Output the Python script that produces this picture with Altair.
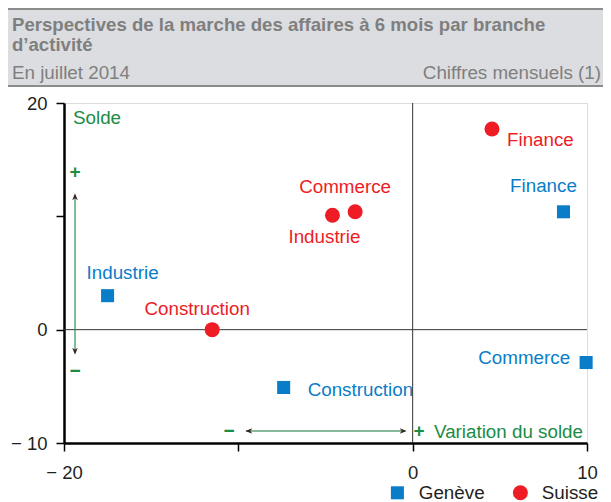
import altair as alt
import pandas as pd

# ---- data ----
branches = ["Industrie", "Construction", "Finance", "Commerce"]
geneve_x = [-17.5, -7.4, 8.65, 9.95]
geneve_y = [3.0, -5.1, 10.4, -2.9]
suisse_x = [-4.6, -11.5, 4.55, -3.3]
suisse_y = [10.1, 0.0, 17.7, 10.4]
series = ["Genève", "Suisse"]
x_ticks = [-20, -10, 0, 10]
y_ticks = [-10, 0, 10, 20]

title_line1 = "Perspectives de la marche des affaires à 6 mois par branche"
title_line2 = "d’activité"
subtitle_left = "En juillet 2014"
subtitle_right = "Chiffres mensuels (1)"

rows = []
for b, x, y in zip(branches, geneve_x, geneve_y):
    rows.append({"serie": "Genève", "branche": b, "x": x, "y": y})
for b, x, y in zip(branches, suisse_x, suisse_y):
    rows.append({"serie": "Suisse", "branche": b, "x": x, "y": y})
df = pd.DataFrame(rows)
one = pd.DataFrame({"a": [0]})

BLUE = "#0a7dc8"
RED = "#ee1c25"
GREEN = "#1a8c46"
BG = "#dcdde0"
HEAD = "#7f7f7f"
INK = "#231f20"
FONT = "Liberation Sans"
LFS = 18.8

PL = 56          # left padding (plot origin at page x = 8 + PL)
W, H = 523, 340

xs = alt.Scale(domain=[-20, 10], nice=False, zero=False)
ys = alt.Scale(domain=[-10, 20], nice=False, zero=False)

x_axis = alt.Axis(values=x_ticks, title=None, grid=False,
                  labelExpr="datum.value == -20 ? '− 20' : datum.value == 0 ? '0' : datum.value == 10 ? '10' : ''",
                  domainColor="black", domainWidth=2.5, tickColor="black", tickWidth=1.5,
                  tickSize=8, labelFontSize=18.5, labelColor=INK, labelPadding=12,
                  labelFont=FONT, labelFlush=False)
y_axis = alt.Axis(values=y_ticks, title=None, grid=False,
                  labelExpr="datum.value == 20 ? '20' : datum.value == 0 ? '0' : datum.value == -10 ? '− 10' : ''",
                  domainColor="black", domainWidth=2.5, tickColor="black", tickWidth=1.5,
                  tickSize=8, labelFontSize=18.5, labelColor=INK, labelPadding=9,
                  labelFont=FONT, labelFlush=False)

legend = alt.Legend(orient="none", direction="horizontal", legendX=324, legendY=380,
                    title=None, labelFontSize=LFS, labelColor=INK, labelFont=FONT,
                    symbolSize=170, labelOffset=12, columnPadding=26, padding=0,
                    symbolStrokeWidth=0)

base_scale_color = alt.Scale(domain=series, range=[BLUE, RED])

points = alt.Chart(df).mark_point(filled=True, opacity=1).encode(
    x=alt.X("x:Q", scale=xs, axis=x_axis),
    y=alt.Y("y:Q", scale=ys, axis=y_axis),
    color=alt.Color("serie:N", scale=base_scale_color, legend=legend),
    shape=alt.Shape("serie:N", scale=alt.Scale(domain=series, range=["square", "circle"]), legend=legend),
    size=alt.Size("serie:N", scale=alt.Scale(domain=series, range=[170, 225]), legend=None),
)

zero_x = alt.Chart(one).mark_rule(color="#333333", strokeWidth=1).encode(x=alt.datum(0))
zero_y = alt.Chart(one).mark_rule(color="#333333", strokeWidth=1).encode(y=alt.datum(0))

# label placement (style): (dx, dy, align)
offsets = {
    ("Genève", "Industrie"): (15, -23, "center"),
    ("Genève", "Construction"): (24, 3, "left"),
    ("Genève", "Finance"): (-20, -26, "center"),
    ("Genève", "Commerce"): (-16, -5, "right"),
    ("Suisse", "Industrie"): (-8, 22, "center"),
    ("Suisse", "Construction"): (-15, -21, "center"),
    ("Suisse", "Finance"): (15, 11, "left"),
    ("Suisse", "Commerce"): (-10, -25, "center"),
}
label_layers = []
for (s, b), (dx, dy, al) in offsets.items():
    col = BLUE if s == "Genève" else RED
    label_layers.append(
        alt.Chart(df).transform_filter(
            (alt.datum.serie == s) & (alt.datum.branche == b)
        ).mark_text(dx=dx, dy=dy, align=al, baseline="middle", fontSize=LFS,
                    font=FONT, color=col).encode(
            x=alt.X("x:Q", scale=xs), y=alt.Y("y:Q", scale=ys), text="branche:N")
    )

# ---- header band (page x 8..603) ----
HX0, HX1 = -PL, 595 - PL
head_rect = alt.Chart(one).mark_rect(color=BG).encode(
    x=alt.value(HX0), x2=alt.value(HX1), y=alt.value(-95), y2=alt.value(-17))
head_top = alt.Chart(one).mark_rule(color="#8c8c8c", strokeWidth=2).encode(
    x=alt.value(HX0), x2=alt.value(HX1), y=alt.value(-94))
head_bot = alt.Chart(one).mark_rule(color="#8c8c8c", strokeWidth=2).encode(
    x=alt.value(HX0), x2=alt.value(HX1), y=alt.value(-17))


def txt(s, x, y, size=LFS, color=HEAD, align="left", weight="normal"):
    return alt.Chart(one).mark_text(text=s, align=align, baseline="middle", fontSize=size,
                                    color=color, font=FONT, fontWeight=weight).encode(
        x=alt.value(x), y=alt.value(y))


head_texts = [
    txt(title_line1, HX0 + 4, -78, size=18.6, weight="bold"),
    txt(title_line2, HX0 + 4, -58, size=18.6, weight="bold"),
    txt(subtitle_left, HX0 + 4, -30, size=18.8),
    txt(subtitle_right, HX1 - 2, -30, size=18.8, align="right"),
]

# ---- annotations ----
ann = [
    txt("Solde", 9, 15, color=GREEN),
    txt("+", 11, 69, size=19, color=GREEN, align="center", weight="bold"),
    txt("−", 11, 268, size=19, color=GREEN, align="center", weight="bold"),
    txt("−", 165, 328, size=19, color=GREEN, align="center", weight="bold"),
    txt("+", 355, 328, size=19, color=GREEN, align="center", weight="bold"),
    txt("Variation du solde", 370, 329, color=GREEN),
]
vline = alt.Chart(one).mark_rule(color="#2e8f55", strokeWidth=1.2).encode(
    x=alt.value(11), y=alt.value(93), y2=alt.value(249))
hline = alt.Chart(one).mark_rule(color="#5fa27c", strokeWidth=1.5).encode(
    x=alt.value(182), x2=alt.value(341), y=alt.value(328))

HEADP = "M0,-1L0.75,0.9L0,0.35L-0.75,0.9Z"


def head(x, y, ang):
    return alt.Chart(one).mark_point(shape=HEADP, filled=True, color="#3b2222", size=55,
                                     angle=ang, opacity=1).encode(x=alt.value(x), y=alt.value(y))


heads = [head(11, 94, 0), head(11, 248, 180), head(185, 328, 270), head(339, 328, 90)]

chart = alt.layer(
    head_rect, head_top, head_bot, *head_texts,
    zero_x, zero_y, vline, hline, *heads, *ann,
    points, *label_layers,
).properties(
    width=W, height=H,
    autosize=alt.AutoSizeParams(type="none"),
    padding={"left": PL, "top": 95, "right": 595 - PL - W, "bottom": 59},
).configure_view(
    fill=BG, stroke="#6e6e6e", strokeWidth=1.5
).configure(font=FONT)

chart.save("out.html", embed_options={"renderer": "svg", "actions": False})
